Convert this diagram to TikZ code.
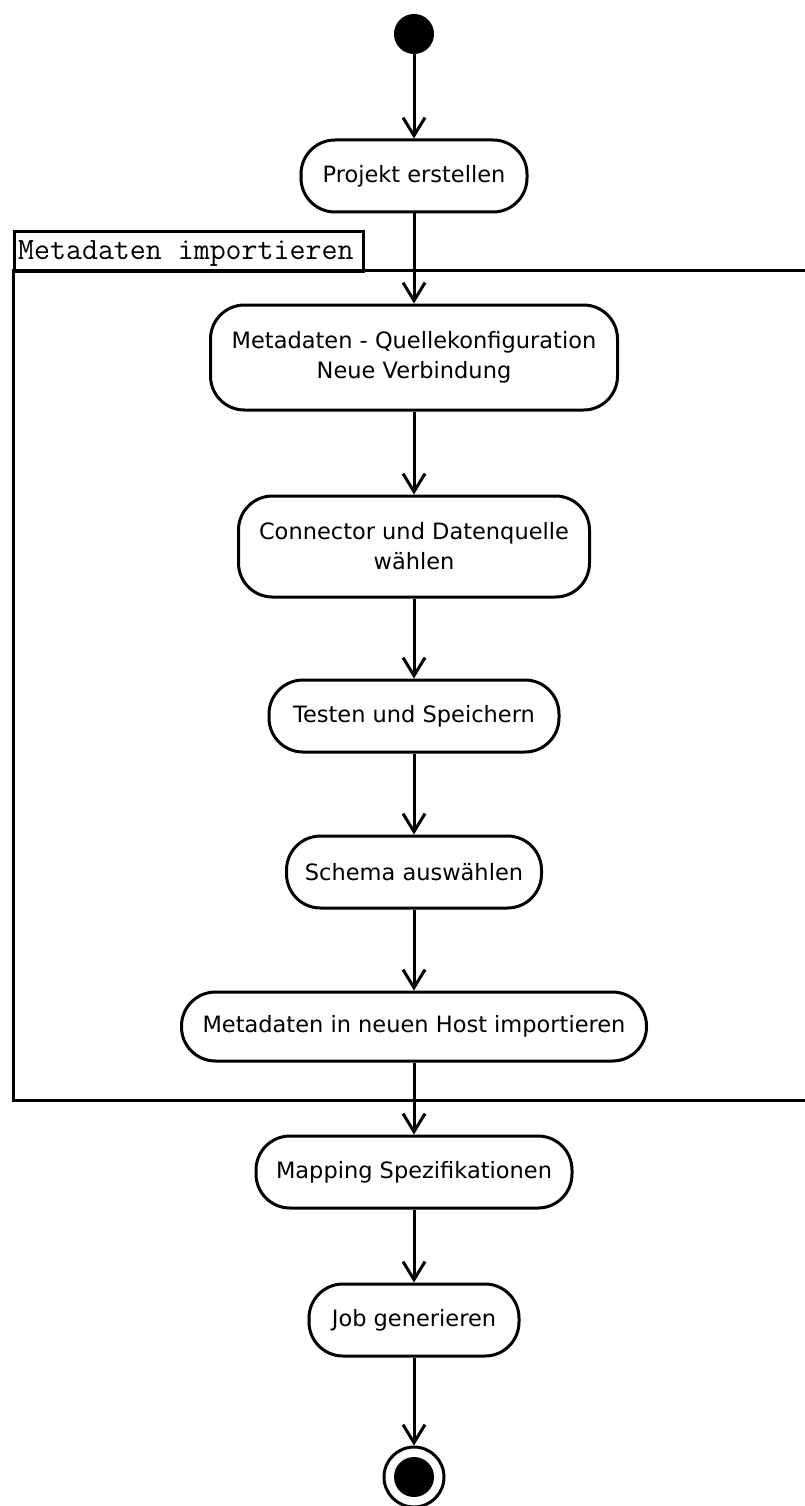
\documentclass[tikz,border=0pt]{standalone}
\usepackage{fontspec}
\setmainfont{DejaVu Sans}
\usetikzlibrary{arrows.meta}
\begin{document}
\begin{tikzpicture}[x=1pt,y=-1pt,
  act/.style={draw, line width=3pt, rounded corners=34pt, align=center, inner sep=0pt,
    font=\fontsize{22.5}{30}\selectfont},
  arr/.style={line width=3pt, -{Straight Barb[length=18pt,width=22pt,line width=3pt]}},
  frm/.style={line width=3pt}]
\useasboundingbox (0,0) rectangle (805,1506);
% frame
\draw[frm] (13,270) rectangle (812,1100);
\node[draw, line width=3pt, anchor=north west, minimum width=349pt, minimum height=40pt, inner sep=0pt] (tab) at (13,230) {};
\node[anchor=base west, inner sep=0pt, font=\ttfamily\fontsize{31}{31}\selectfont] (tabtext) at (18,259) {Metadaten importieren};
% nodes
\node[circle, fill=black, minimum size=40pt, inner sep=0pt] (start) at (414,34) {};
\node[act, minimum width=226pt, minimum height=72pt] (p1) at (414,176) {Projekt erstellen};
\node[act, minimum width=407pt, minimum height=105pt] (b2) at (414,357.5) {Metadaten - Quellekonfiguration\\Neue Verbindung};
\node[act, minimum width=351pt, minimum height=101pt] (b3) at (414,546.5) {Connector und Datenquelle\\wählen};
\node[act, minimum width=290pt, minimum height=72pt] (b4) at (414,716) {Testen und Speichern};
\node[act, minimum width=255pt, minimum height=72pt] (b5) at (414,872) {Schema auswählen};
\node[act, minimum width=465pt, minimum height=69pt] (b6) at (414,1026.5) {Metadaten in neuen Host importieren};
\node[act, minimum width=316pt, minimum height=72pt] (b7) at (414,1172) {Mapping Spezifikationen};
\node[act, minimum width=210pt, minimum height=72pt] (b8) at (414,1320) {Job generieren};
\node[circle, draw, line width=3pt, minimum size=60pt, inner sep=0pt] (end) at (414,1477) {};
\node[circle, fill=black, minimum size=40pt, inner sep=0pt] (endin) at (414,1477) {};
% connectors
\draw[arr] (start) -- (p1);
\draw[arr] (p1) -- (b2);
\draw[arr] (b2) -- (b3);
\draw[arr] (b3) -- (b4);
\draw[arr] (b4) -- (b5);
\draw[arr] (b5) -- (b6);
\draw[arr] (b6) -- (b7);
\draw[arr] (b7) -- (b8);
\draw[arr] (b8) -- (end);
\end{tikzpicture}
\end{document}
